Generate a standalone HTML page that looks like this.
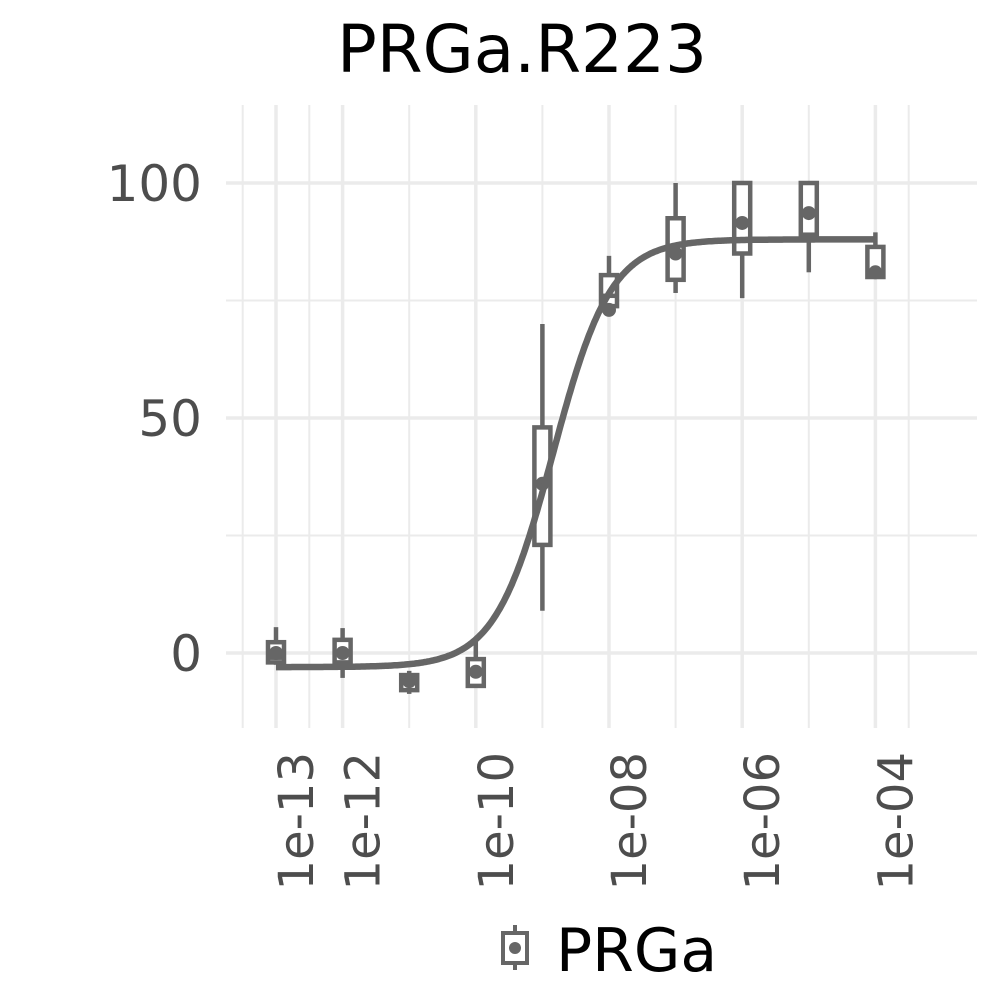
<!DOCTYPE html>
<html><head><meta charset="utf-8">
<style>
html,body{margin:0;padding:0;background:#fff;}
svg text{font-family:"DejaVu Sans","Liberation Sans",sans-serif;}
</style></head>
<body>
<svg id="chart" width="1000" height="1000" viewBox="0 0 1000 1000" xmlns="http://www.w3.org/2000/svg">
<rect x="0" y="0" width="1000" height="1000" fill="#fff"/>
<text x="522" y="72" font-size="66" text-anchor="middle" fill="#000">PRGa.R223</text>
<g id="grid"></g>
<g id="marks"></g>
<g id="axes"></g>
<g>
  <line x1="515" y1="925" x2="515" y2="970" stroke="#666" stroke-width="4"/>
  <rect x="503" y="933" width="24" height="30" fill="#fff" stroke="#666" stroke-width="4"/>
  <circle cx="515" cy="948" r="6" fill="#666"/>
  <text x="556" y="971" font-size="60" fill="#000">PRGa</text>
</g>
</svg>
<script>
const doses = [-13,-12,-11,-10,-9,-8,-7,-6,-5,-4];
const whiskHi = [5.5,5.3,-3.8,2.8,70,84.5,100,100,100,89.5];
const q3 = [2.3,2.8,-4.7,-1.3,48,80.4,92.5,100,100,86.4];
const med = [-1,0,-6,-4,36,76,85,91.5,93.6,81];
const q1 = [-2,-2,-7.9,-7,23,73.8,79.4,85,89,80];
const whiskLo = [-2.5,-5.3,-8.7,-7.4,9,73,76.6,75.5,81,80];
const pts = [0,0,-6,-4,36,73,85,91.5,93.6,81];
const yTicks = [0,50,100];
const yMinor = [25,75];
const xTicks = [-13,-12,-10,-8,-6,-4];
const xTickLabels = ["1e-13","1e-12","1e-10","1e-08","1e-06","1e-04"];
const xMinor = [-13.5,-12.5,-11,-9,-7,-5,-3.5];
const fitBottom = -3, fitTop = 88, fitLogEC50 = -8.84, fitHill = 1.0;

const NS="http://www.w3.org/2000/svg";
const X = l => 276 + (l + 13) * 66.6;
const Y = v => 653 - v * 4.7;
const L = 226, R = 977, T = 105, B = 728;
function mk(tag, attrs, parent){const e=document.createElementNS(NS,tag);for(const k in attrs)e.setAttribute(k,attrs[k]);parent.appendChild(e);return e;}
const grid=document.getElementById('grid'), marks=document.getElementById('marks'), axes=document.getElementById('axes');

yMinor.forEach(v=>{const e=mk('line',{x1:L,x2:R,y1:Y(v),y2:Y(v),stroke:'#ebebeb','stroke-width':2},grid);

});
xMinor.forEach(v=>{const e=mk('line',{x1:X(v),x2:X(v),y1:T,y2:B,stroke:'#ebebeb','stroke-width':2},grid);

});
yTicks.forEach(v=>{const e=mk('line',{x1:L,x2:R,y1:Y(v),y2:Y(v),stroke:'#ebebeb','stroke-width':3.5},grid);


const t=mk('text',{x:202,y:Y(v)+18,'font-size':50,'text-anchor':'end',fill:'#4d4d4d'},axes);t.textContent=String(v);

});
xTicks.forEach((v,i)=>{const e=mk('line',{x1:X(v),x2:X(v),y1:T,y2:B,stroke:'#ebebeb','stroke-width':3.5},grid);


const bx=X(v)+37, by=752;
const t=mk('text',{x:bx,y:by,'font-size':48,'text-anchor':'end',fill:'#4d4d4d',transform:`rotate(-90 ${bx} ${by})`},axes);t.textContent=xTickLabels[i];

});

const hw=8;
doses.forEach((d,i)=>{const g=mk('g',{},marks);


const cx=X(d);
mk('line',{x1:cx,x2:cx,y1:Y(whiskHi[i]),y2:Y(q3[i]),stroke:'#666','stroke-width':4.5},g);
mk('line',{x1:cx,x2:cx,y1:Y(q1[i]),y2:Y(whiskLo[i]),stroke:'#666','stroke-width':4.5},g);
mk('rect',{x:cx-hw,y:Y(q3[i]),width:2*hw,height:Math.max(1,Y(q1[i])-Y(q3[i])),fill:'#fff',stroke:'#666','stroke-width':4.5},g);
mk('line',{x1:cx-hw,x2:cx+hw,y1:Y(med[i]),y2:Y(med[i]),stroke:'#666','stroke-width':4.5},g);
mk('circle',{cx:cx,cy:Y(pts[i]),r:7,fill:'#666'},g);
});

let d='';
for(let l=-13;l<=-4.0001;l+=0.02){const v=fitBottom+(fitTop-fitBottom)/(1+Math.pow(10,(fitLogEC50-l)*fitHill));d+=(d?'L':'M')+X(l).toFixed(1)+','+Y(v).toFixed(1);}
const c=mk('path',{d:d,fill:'none',stroke:'#666','stroke-width':6.5},marks);


</script>
</body></html>
